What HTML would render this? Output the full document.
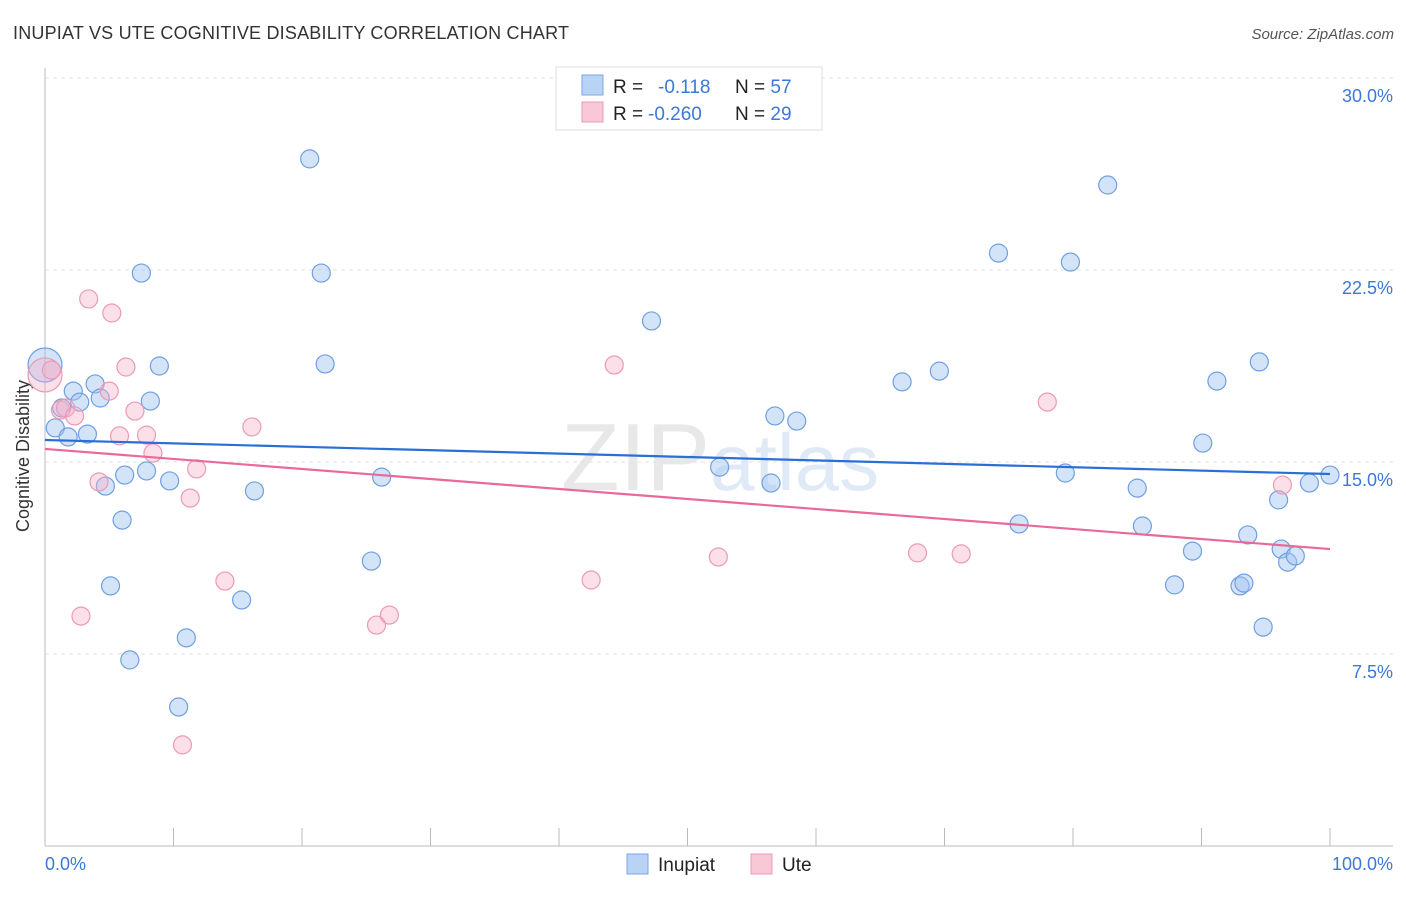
<!DOCTYPE html>
<html><head><meta charset="utf-8"><style>
body{margin:0;background:#fff;font-family:"Liberation Sans",sans-serif;}
svg text{font-family:"Liberation Sans",sans-serif;}
</style></head><body>
<svg id="chart" width="1406" height="892" xmlns="http://www.w3.org/2000/svg">
<text x="13" y="39" font-size="18" fill="#333" textLength="556">INUPIAT VS UTE COGNITIVE DISABILITY CORRELATION CHART</text>
<text x="1394" y="39" font-size="15" fill="#555" font-style="italic" text-anchor="end">Source: ZipAtlas.com</text>
<text x="720" y="490" font-size="96" fill="#e8e8e8" text-anchor="middle" font-family="Liberation Serif">ZIP<tspan fill="#e0eaf7" font-family="Liberation Sans" font-size="80">atlas</tspan></text>
<g id="grid"></g>
<line x1="45" y1="68" x2="45" y2="846" stroke="#bbb"/>
<line x1="45" y1="846" x2="1393" y2="846" stroke="#bbb"/>
<text x="29" y="456" font-size="18" fill="#333" text-anchor="middle" transform="rotate(-90 29 456)">Cognitive Disability</text>
<text x="45" y="870" font-size="18" fill="#3b78d8">0.0%</text>
<text x="1393" y="870" font-size="18" fill="#3b78d8" text-anchor="end">100.0%</text>
<g id="marks"></g>
<g>
<rect x="556" y="67" width="266" height="63" fill="#fff" stroke="#ddd"/>
<rect x="582" y="75" width="21" height="20" fill="#b9d3f5" stroke="#7aa6e6"/>
<rect x="582" y="102" width="21" height="20" fill="#f8c8d7" stroke="#ec9ab5"/>
<text x="613" y="93" font-size="19" fill="#222">R = <tspan x="658" fill="#3b78d8">-0.118</tspan><tspan x="735" fill="#222">N = </tspan><tspan fill="#3b78d8">57</tspan></text>
<text x="613" y="120" font-size="19" fill="#222">R = <tspan x="648" fill="#3b78d8">-0.260</tspan><tspan x="735" fill="#222">N = </tspan><tspan fill="#3b78d8">29</tspan></text>
</g>
<g>
<rect x="627" y="854" width="21" height="20" fill="#b9d3f5" stroke="#7aa6e6"/>
<text x="658" y="871" font-size="19" fill="#222">Inupiat</text>
<rect x="751" y="854" width="21" height="20" fill="#f8c8d7" stroke="#ec9ab5"/>
<text x="782" y="871" font-size="19" fill="#222">Ute</text>
</g>
</svg>
<script>
const yTicks=[7.5,15,22.5,30];
const yTickLabels=["7.5%","15.0%","22.5%","30.0%"];
const xTicks=[0,10,20,30,40,50,60,70,80,90,100];
const inupiatX=[0,0.8,1.3,1.8,2.2,2.7,3.3,3.9,4.3,4.7,5.1,6.0,6.2,6.6,7.5,7.9,8.2,8.9,9.7,10.4,11.0,15.3,16.3,20.6,21.5,21.8,25.4,26.2,47.2,52.5,56.5,56.8,58.5,66.7,69.6,74.2,75.8,79.4,79.8,82.7,85.0,85.4,87.9,89.3,90.1,91.2,93.0,93.3,93.6,94.5,94.8,96.0,96.2,96.7,97.3,98.4,100];
const inupiatY=[18.79,16.33,17.11,15.98,17.77,17.34,16.09,18.05,17.50,14.06,10.16,12.73,14.49,7.27,22.38,14.65,17.38,18.75,14.26,5.43,8.13,9.61,13.87,26.84,22.38,18.83,11.13,14.41,20.51,14.80,14.18,16.80,16.60,18.13,18.55,23.16,12.58,14.57,22.81,25.82,13.98,12.50,10.20,11.52,15.74,18.16,10.16,10.27,12.15,18.91,8.55,13.52,11.60,11.09,11.33,14.18,14.49];
const uteX=[0,0.5,1.2,1.6,2.3,2.8,3.4,4.2,5.0,5.2,5.8,6.3,7.0,7.9,8.4,10.7,11.3,11.8,14.0,16.1,25.8,26.8,42.5,44.3,52.4,67.9,71.3,78.0,96.3];
const uteY=[18.40,18.59,17.03,17.11,16.80,8.98,21.37,14.22,17.77,20.82,16.02,18.71,16.99,16.05,15.35,3.95,13.59,14.73,10.35,16.37,8.63,9.02,10.39,18.79,11.29,11.45,11.41,17.34,14.10];
const inupiatTrend=[15.86,14.53];
const uteTrend=[15.51,11.60];
const NS="http://www.w3.org/2000/svg";
const sx=v=>45+v*12.85;
const sy=v=>846-v*25.6;
const grid=document.getElementById('grid'),marks=document.getElementById('marks');
function mk(t,a,p){const e=document.createElementNS(NS,t);for(const k in a)e.setAttribute(k,a[k]);(p||marks).appendChild(e);return e;}
yTicks.forEach((t,i)=>{
 const l=mk('line',{x1:45,x2:1393,y1:sy(t),y2:sy(t),stroke:'#e2e2e2','stroke-dasharray':'4,4'},grid);
 
 
 const tx=mk('text',{x:1393,y:sy(t)+24,'font-size':18,fill:'#3b78d8','text-anchor':'end'},grid);
 tx.textContent=yTickLabels[i];
 
 
});
xTicks.forEach(t=>{
 const l=mk('line',{x1:sx(t),x2:sx(t),y1:828,y2:846,stroke:'#bbb'},grid);
 
 
});
function pts(X,Y,fill,stroke,name){
 X.forEach((x,i)=>{
  const r=i===0?17:9;
  const c=mk('circle',{cx:sx(x),cy:sy(Y[i]),r:r,fill:fill,stroke:stroke,'stroke-width':1.2});
  
  
 });
}
pts(inupiatX,inupiatY,'rgba(160,195,240,0.45)','#6f9fe2','inupiat-point');
pts(uteX,uteY,'rgba(246,175,200,0.4)','#eb9ab6','ute-point');
const t1=mk('line',{x1:sx(0),y1:sy(inupiatTrend[0]),x2:sx(100),y2:sy(inupiatTrend[1]),stroke:'#2a6fd6','stroke-width':2.2});


const t2=mk('line',{x1:sx(0),y1:sy(uteTrend[0]),x2:sx(100),y2:sy(uteTrend[1]),stroke:'#e8699a','stroke-width':2.2});


</script>
</body></html>
